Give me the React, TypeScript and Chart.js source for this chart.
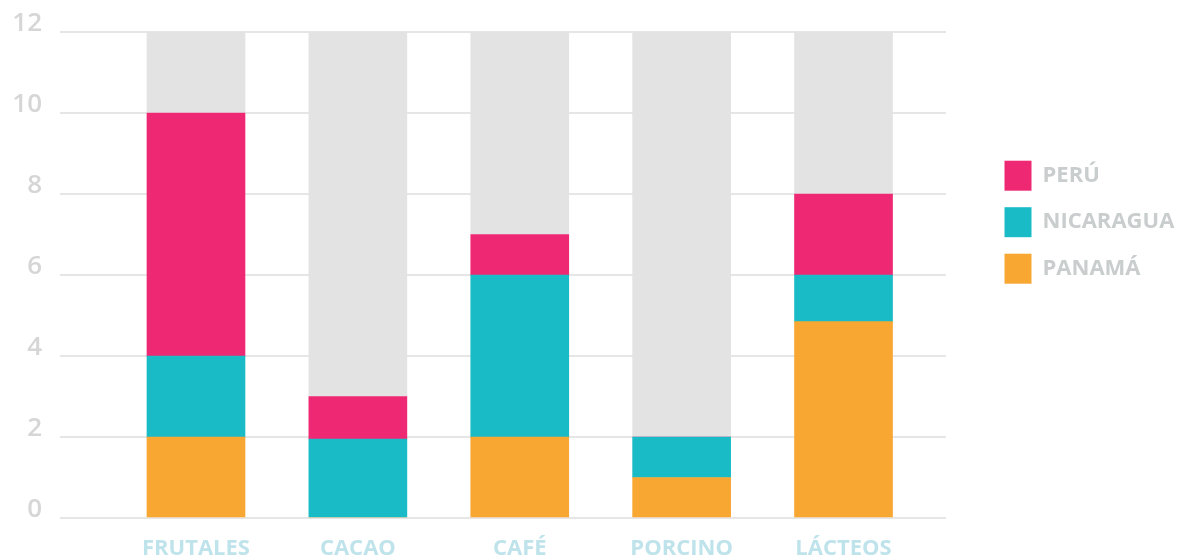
import React, { useEffect, useRef } from 'react';
import { Chart, registerables } from 'chart.js';

Chart.register(...registerables);

const categories = ['FRUTALES', 'CACAO', 'CAFÉ', 'PORCINO', 'LÁCTEOS'];
const panama = [2, 0, 2, 1, 4.85];
const nicaragua = [2, 1.95, 4, 1, 1.15];
const peru = [6, 1.05, 1, 0, 2];
const yMax = 12;
const yStep = 2;

const remainder = categories.map((_, i) => yMax - panama[i] - nicaragua[i] - peru[i]);

const FONT = '"Open Sans", sans-serif';

const toPoints = (arr: number[]) => arr.map((v, i) => ({ x: i, y: v }));

export default function App() {
  const ref = useRef<HTMLCanvasElement | null>(null);

  useEffect(() => {
    if (!ref.current) return;
    const chart = new Chart(ref.current, {
      type: 'bar',
      data: {
        datasets: [
          { label: 'PANAMÁ', data: toPoints(panama), backgroundColor: '#F9A733', stack: 's' },
          { label: 'NICARAGUA', data: toPoints(nicaragua), backgroundColor: '#19BCC6', stack: 's' },
          { label: 'PERÚ', data: toPoints(peru), backgroundColor: '#EE2872', stack: 's' },
          { label: 'rest', data: toPoints(remainder), backgroundColor: '#E3E3E3', stack: 's' },
        ] as any,
      },
      options: {
        animation: false,
        responsive: true,
        maintainAspectRatio: false,
        layout: { padding: { top: 24, bottom: 0, left: 0, right: 0 } },
        datasets: { bar: { barThickness: 98 } } as any,
        scales: {
          x: {
            type: 'linear',
            offset: false,
            min: -0.84,
            max: 4.633,
            grid: { display: false, offset: false, drawTicks: false },
            border: { display: false },
            afterBuildTicks: (s: any) => {
              s.ticks = categories.map((_, i) => ({ value: i }));
            },
            afterFit: (s: any) => {
              s.height = 42;
            },
            ticks: {
              autoSkip: false,
              maxRotation: 0,
              padding: 19,
              color: '#BFE3EB',
              font: { family: FONT, size: 22, weight: 'bold', lineHeight: 1.1 },
              callback: (v: any) => categories[v as number] ?? '',
            },
          },
          y: {
            stacked: true,
            min: 0,
            max: yMax,
            grid: { color: '#E6E6E6', lineWidth: 2, drawTicks: false },
            border: { display: false },
            afterFit: (s: any) => {
              s.width = 52;
              s.paddingTop = 0;
              s.paddingBottom = 0;
            },
            ticks: {
              stepSize: yStep,
              padding: 18,
              labelOffset: -8,
              color: '#D6D6D6',
              font: { family: FONT, size: 26, weight: '600' },
            },
          },
          yR: {
            position: 'right',
            display: true,
            grid: { display: false },
            border: { display: false },
            ticks: { display: false },
            afterFit: (s: any) => {
              s.width = 42;
              s.paddingTop = 0;
              s.paddingBottom = 0;
            },
          },
        } as any,
        plugins: {
          tooltip: { enabled: false },
          legend: {
            position: 'right',
            align: 'start',
            reverse: true,
            title: { display: true, text: '', padding: { top: 111, bottom: 0 }, font: { size: 1 } },
            labels: {
              boxWidth: 27,
              boxHeight: 30,
              padding: 16.5,
              color: '#C9CDCD',
              font: { family: FONT, size: 22, weight: 'bold' },
              filter: (item: any) => item.datasetIndex !== 3,
            },
          } as any,
        },
      },
    });
    return () => chart.destroy();
  }, []);

  return (
    <div style={{ width: 1176, height: 552, position: 'relative' }}>
      <canvas ref={ref} />
    </div>
  );
}
